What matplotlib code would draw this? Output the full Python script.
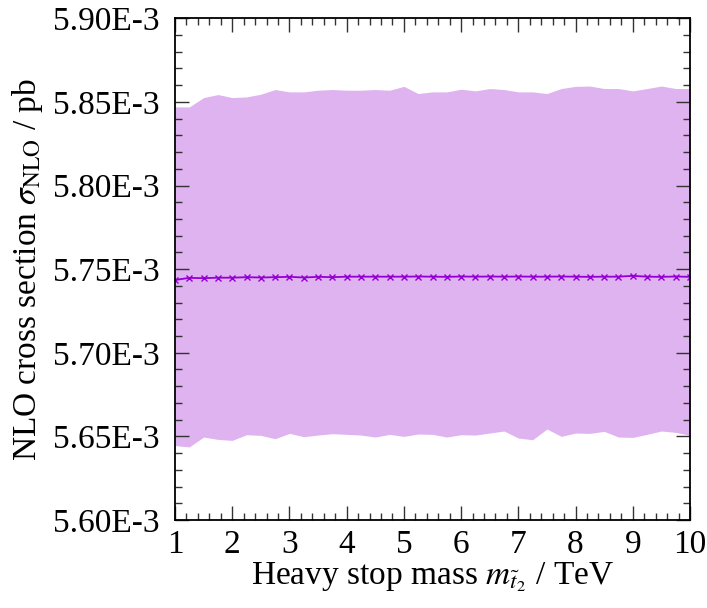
import numpy as np
import matplotlib
matplotlib.use("Agg")
import matplotlib.pyplot as plt
from matplotlib.ticker import FixedLocator, MultipleLocator, FuncFormatter

plt.rcParams['font.family'] = ['Liberation Serif', 'DejaVu Serif']
plt.rcParams['mathtext.fontset'] = 'stix'

# data (sigma in units of 1E-3 pb)
mass = [1.0, 1.25, 1.5, 1.75, 2.0, 2.25, 2.5, 2.75, 3.0, 3.25, 3.5, 3.75, 4.0, 4.25,
        4.5, 4.75, 5.0, 5.25, 5.5, 5.75, 6.0, 6.25, 6.5, 6.75, 7.0, 7.25, 7.5, 7.75,
        8.0, 8.25, 8.5, 8.75, 9.0, 9.25, 9.5, 9.75, 10.0]
central = [5.7435, 5.7448, 5.7446, 5.7449, 5.7449, 5.7452, 5.7450, 5.7452, 5.7454, 5.7450,
           5.7454, 5.7452, 5.7455, 5.7455, 5.7455, 5.7455, 5.7455, 5.7456, 5.7455, 5.7454,
           5.7456, 5.7455, 5.7456, 5.7455, 5.7456, 5.7455, 5.7455, 5.7456, 5.7455, 5.7454,
           5.7455, 5.7455, 5.7460, 5.7455, 5.7454, 5.7456, 5.7454]
upper = [5.8470, 5.8470, 5.8526, 5.8544, 5.8526, 5.8530, 5.8546, 5.8574, 5.8560, 5.8560,
         5.8570, 5.8574, 5.8570, 5.8570, 5.8574, 5.8570, 5.8593, 5.8550, 5.8560, 5.8560,
         5.8576, 5.8566, 5.8580, 5.8574, 5.8560, 5.8560, 5.8550, 5.8580, 5.8593, 5.8595,
         5.8580, 5.8580, 5.8566, 5.8580, 5.8595, 5.8580, 5.8580]
lower = [5.6445, 5.6437, 5.6496, 5.6482, 5.6476, 5.6510, 5.6506, 5.6486, 5.6518, 5.6498,
         5.6508, 5.6516, 5.6512, 5.6508, 5.6496, 5.6512, 5.6500, 5.6514, 5.6512, 5.6496,
         5.6510, 5.6508, 5.6520, 5.6532, 5.6490, 5.6480, 5.6544, 5.6500, 5.6520, 5.6518,
         5.6530, 5.6496, 5.6494, 5.6512, 5.6532, 5.6524, 5.6506]
ytick_vals = [5.60, 5.65, 5.70, 5.75, 5.80, 5.85, 5.90]
xtick_vals = [1, 2, 3, 4, 5, 6, 7, 8, 9, 10]

fig = plt.figure(figsize=(7.07, 6.08), dpi=100)
ax = fig.add_axes([175/707, 88/608, 515/707, (520-18.3)/608])

band_color = '#dfb3f0'
line_color = '#9400d3'

ax.fill_between(mass, lower, upper, color=band_color, linewidth=0, zorder=1)
ax.plot(mass, central, color=line_color, linewidth=1.3, marker='x',
        markersize=5, markeredgewidth=1.0, zorder=3)

ax.set_xlim(1, 10)
ax.set_ylim(5.60, 5.90)
ax.xaxis.set_major_locator(FixedLocator(xtick_vals))
ax.xaxis.set_minor_locator(MultipleLocator(0.2))
ax.yaxis.set_major_locator(FixedLocator(ytick_vals))
ax.yaxis.set_minor_locator(MultipleLocator(0.01))
ax.yaxis.set_major_formatter(FuncFormatter(lambda v, p: f"{v:.2f}E-3"))
ax.xaxis.set_major_formatter(FuncFormatter(lambda v, p: f"{int(round(v))}"))

ax.tick_params(which='both', direction='in', top=True, right=True, width=1.0, color='#333333')
ax.tick_params(which='major', length=10)
ax.tick_params(which='minor', length=5)
ax.tick_params(axis='y', which='major', pad=11, labelsize=24)
ax.tick_params(axis='x', which='major', pad=7, labelsize=24)
for s in ax.spines.values():
    s.set_linewidth(1.3)
    s.set_zorder(5)

ax.set_xlabel(r"Heavy stop mass $m_{\tilde{t}_2}$ / TeV", fontsize=24, labelpad=0)
ax.set_ylabel(r"NLO cross section $\sigma_{\mathrm{NLO}}$ / pb", fontsize=24, labelpad=6)

fig.savefig("out.png", dpi=100)
